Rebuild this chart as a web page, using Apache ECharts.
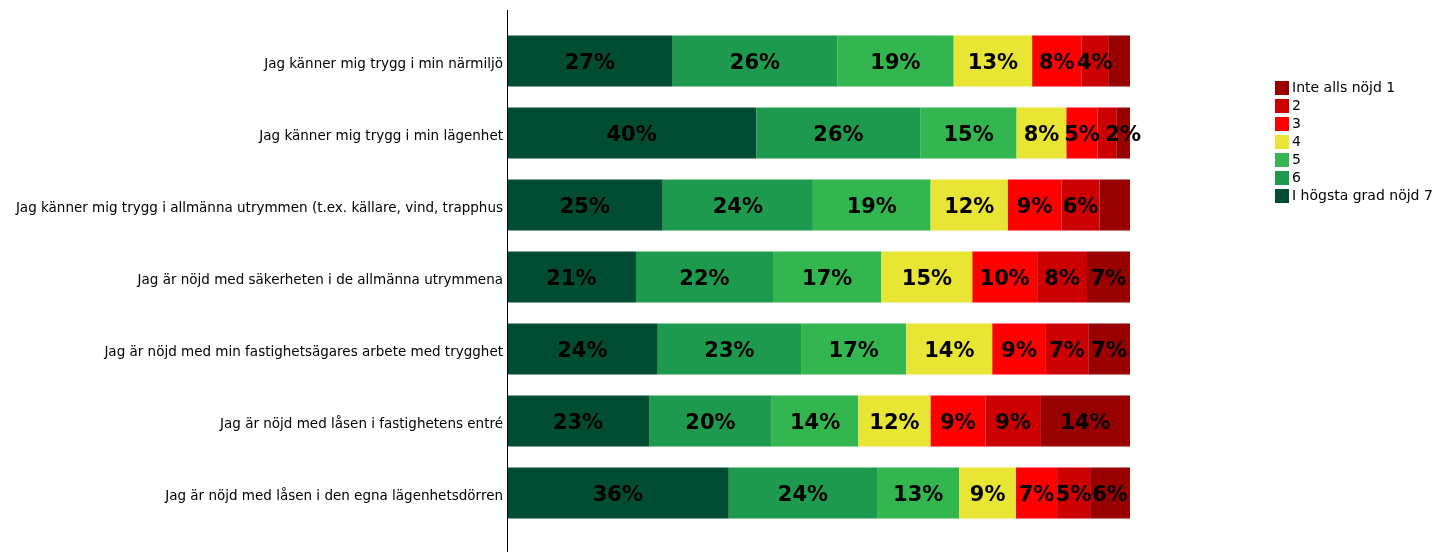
<!DOCTYPE html>
<html><head><meta charset="utf-8">
<script src="https://cdn.jsdelivr.net/npm/echarts@6/dist/echarts.min.js"></script>
<style>html,body{margin:0;padding:0;background:#fff}#c{width:1437px;height:552px}</style>
</head><body><div id="c"></div>
<script>
const categories = [
  'Jag känner mig trygg i min närmiljö',
  'Jag känner mig trygg i min lägenhet',
  'Jag känner mig trygg i allmänna utrymmen (t.ex. källare, vind, trapphus',
  'Jag är nöjd med säkerheten i de allmänna utrymmena',
  'Jag är nöjd med min fastighetsägares arbete med trygghet',
  'Jag är nöjd med låsen i fastighetens entré',
  'Jag är nöjd med låsen i den egna lägenhetsdörren'
];
const seriesNames = ['I högsta grad nöjd 7','6','5','4','3','2','Inte alls nöjd 1'];
const legendOrder = ['Inte alls nöjd 1','2','3','4','5','6','I högsta grad nöjd 7'];
const colors = ['#004D33','#1E9A4E','#33B54F','#E8E535','#FF0000','#CC0000','#990000'];
const s7 = [26.6, 40.0, 25.0, 20.7, 24.2, 22.8, 35.6];
const s6 = [26.4, 26.4, 24.1, 22.0, 23.0, 19.7, 23.8];
const s5 = [18.7, 15.4, 18.9, 17.4, 16.9, 13.9, 13.2];
const s4 = [12.6, 8.0, 12.4, 14.6, 13.8, 11.6, 9.1];
const s3 = [7.9, 5.0, 8.6, 10.4, 8.6, 8.8, 6.6];
const s2 = [4.3, 3.0, 6.1, 8.0, 6.8, 8.9, 5.3];
const s1 = [3.5, 2.2, 4.9, 6.9, 6.7, 14.3, 6.4];
// [row index, series index] whose value label is not shown
const hiddenLabels = [[0, 6], [1, 5], [2, 6]];

const values = [s7, s6, s5, s4, s3, s2, s1];
const gridLeft = 507, gridTop = 25, gridRight = 307, gridBottom = 23;

const chart = echarts.init(document.getElementById('c'));
chart.setOption({
  animation: false,
  textStyle: { fontFamily: 'DejaVu Sans' },
  grid: { left: gridLeft, right: gridRight, top: gridTop, bottom: gridBottom, containLabel: false },
  legend: {
    orient: 'vertical', left: 1270, top: 76,
    data: legendOrder, itemWidth: 14, itemHeight: 14, itemGap: 4,
    icon: 'rect', textStyle: { fontSize: 14, color: '#000', fontFamily: 'DejaVu Sans', padding: [0,0,0,-2] }
  },
  xAxis: { type: 'value', min: 0, max: 100, show: false },
  yAxis: {
    type: 'category', data: categories, inverse: true,
    axisLine: { show: false }, axisTick: { show: false },
    axisLabel: { color: '#000', fontSize: 13.5, margin: 4, fontFamily: 'DejaVu Sans',
      verticalAlign: 'top', lineHeight: 6 }
  },
  graphic: [{
    type: 'line', shape: { x1: gridLeft + 0.5, y1: 10, x2: gridLeft + 0.5, y2: 552 },
    style: { stroke: '#000', lineWidth: 1 }, z: 10
  }],
  series: seriesNames.map((name, si) => ({
    name, type: 'bar', stack: 'total', barWidth: 51,
    itemStyle: { color: colors[si] },
    label: {
      show: true, position: 'inside', offset: [0, 3], color: '#000', fontWeight: 'bold', fontSize: 21,
      fontFamily: 'DejaVu Sans', formatter: p => Math.round(p.value) + '%'
    },
    data: values[si].map((v, ri) => hiddenLabels.some(h => h[0] === ri && h[1] === si)
      ? { value: v, label: { show: false } } : v)
  }))
});
</script></body></html>
